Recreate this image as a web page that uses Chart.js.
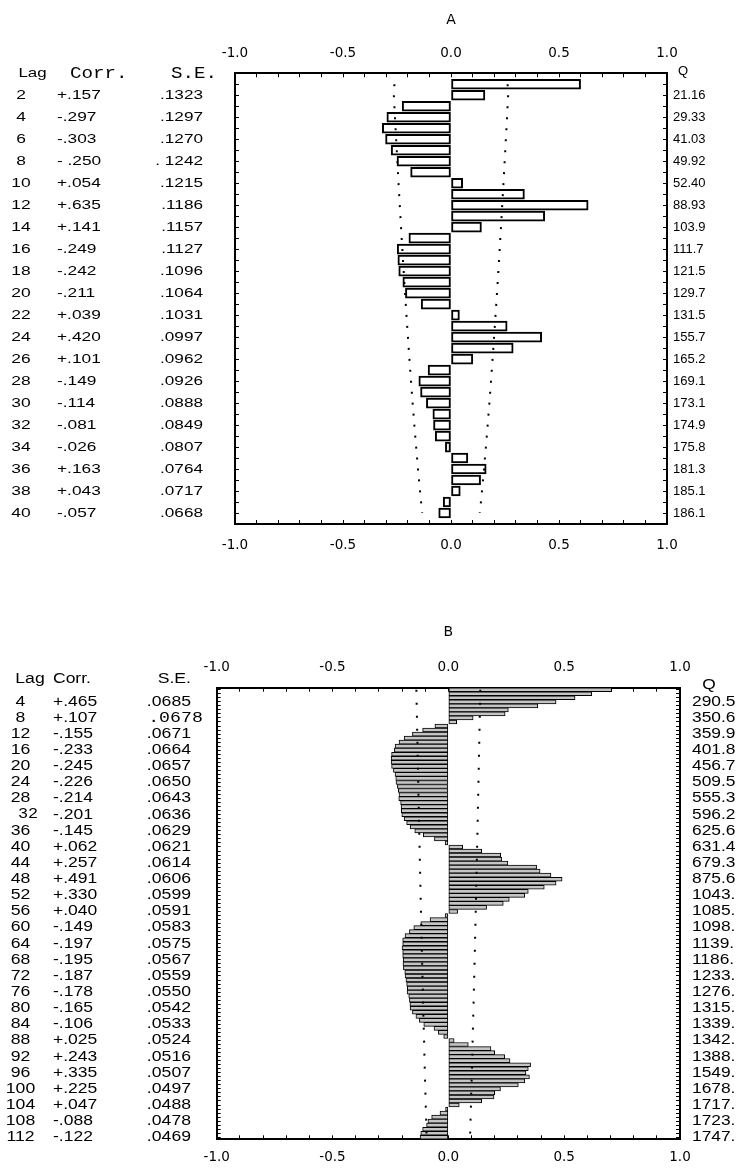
<!DOCTYPE html>
<html><head><meta charset="utf-8">
<script src="https://cdn.jsdelivr.net/npm/chart.js@4.4.1/dist/chart.umd.min.js"></script>
<style>
html,body{margin:0;padding:0;background:#fff;}
#wrapA{position:absolute;left:0;top:0;width:738px;height:584px;}
#wrapB{position:absolute;left:0;top:584px;width:738px;height:584px;}
</style></head><body>
<div id="wrapA"><canvas id="cA"></canvas></div>
<div id="wrapB"><canvas id="cB"></canvas></div>
<script>
// ---------- Panel A data ----------
const lagsA = [1,2,3,4,5,6,7,8,9,10,11,12,13,14,15,16,17,18,19,20,21,22,23,24,25,26,27,28,29,30,31,32,33,34,35,36,37,38,39,40];
const corrA = [0.600,0.157,-0.226,-0.297,-0.318,-0.303,-0.277,-0.250,-0.187,0.054,0.340,0.635,0.434,0.141,-0.195,-0.249,-0.246,-0.242,-0.223,-0.211,-0.138,0.039,0.260,0.420,0.288,0.101,-0.106,-0.149,-0.141,-0.114,-0.084,-0.081,-0.073,-0.026,0.078,0.163,0.137,0.043,-0.036,-0.057];
const tableLagsA = [2,4,6,8,10,12,14,16,18,20,22,24,26,28,30,32,34,36,38,40];
const tableCorrA = ['+.157','-.297','-.303','- .250','+.054','+.635','+.141','-.249','-.242','-.211','+.039','+.420','+.101','-.149','-.114','-.081','-.026','+.163','+.043','-.057'];
const tableSEA = ['.1323','.1297','.1270','. 1242','.1215','.1186','.1157','.1127','.1096','.1064','.1031','.0997','.0962','.0926','.0888','.0849','.0807','.0764','.0717','.0668'];
const tableQA = ['21.16','29.33','41.03','49.92','52.40','88.93','103.9','111.7','121.5','129.7','131.5','155.7','165.2','169.1','173.1','174.9','175.8','181.3','185.1','186.1'];
const bandLagsA = [1,2,4,6,8,10,12,14,16,18,20,22,24,26,28,30,32,34,36,38,40];
const bandA = [0.262,0.2646,0.2594,0.254,0.2484,0.243,0.2372,0.2314,0.2254,0.2192,0.2128,0.2062,0.1994,0.1924,0.1852,0.1776,0.1698,0.1614,0.1528,0.1434,0.1336];

// ---------- Panel B data ----------
const lagsB = [];
for (let k = 1; k <= 112; k++) lagsB.push(k);
const corrB = [
 0.705,0.619,0.547,0.465,0.386,0.259,0.245,0.107,0.036,-0.058,
 -0.111,-0.155,-0.191,-0.213,-0.230,-0.233,-0.245,-0.247,-0.247,-0.245,
 -0.237,-0.230,-0.227,-0.226,-0.220,-0.216,-0.213,-0.214,-0.206,-0.204,
 -0.203,-0.201,-0.191,-0.180,-0.165,-0.145,-0.108,-0.060,-0.014,0.062,
 0.144,0.226,0.230,0.257,0.381,0.396,0.443,0.491,0.465,0.414,
 0.345,0.330,0.263,0.237,0.165,0.040,-0.014,-0.079,-0.119,-0.149,
 -0.168,-0.187,-0.197,-0.197,-0.200,-0.197,-0.197,-0.195,-0.196,-0.194,
 -0.188,-0.187,-0.183,-0.180,-0.177,-0.178,-0.171,-0.168,-0.166,-0.165,
 -0.155,-0.140,-0.125,-0.106,-0.062,-0.043,-0.020,0.025,0.086,0.184,
 0.200,0.243,0.266,0.355,0.345,0.335,0.350,0.330,0.302,0.225,
 0.200,0.197,0.144,0.047,-0.012,-0.036,-0.072,-0.088,-0.094,-0.111,
 -0.119,-0.122];
const tableLagsB = [4,8,12,16,20,24,28,32,36,40,44,48,52,56,60,64,68,72,76,80,84,88,92,96,100,104,108,112];
const tableCorrB = ['+.465','+.107','-.155','-.233','-.245','-.226','-.214','-.201','-.145','+.062','+.257','+.491','+.330','+.040','-.149','-.197','-.195','-.187','-.178','-.165','-.106','+.025','+.243','+.335','+.225','+.047','-.088','-.122'];
const tableSEB = ['.0685','.0678','.0671','.0664','.0657','.0650','.0643','.0636','.0629','.0621','.0614','.0606','.0599','.0591','.0583','.0575','.0567','.0559','.0550','.0542','.0533','.0524','.0516','.0507','.0497','.0488','.0478','.0469'];
const tableQB = ['290.5','350.6','359.9','401.8','456.7','509.5','555.3','596.2','625.6','631.4','679.3','875.6','1043.','1085.','1098.','1139.','1186.','1233.','1276.','1315.','1339.','1342.','1388.','1549.','1678.','1717.','1723.','1747.'];
const bandLagsB = [1,4,8,12,16,20,24,28,32,36,40,44,48,52,56,60,64,68,72,76,80,84,88,92,96,100,104,108,112];
const bandB = [0.138,0.137,0.1356,0.1342,0.1328,0.1314,0.130,0.1286,0.1272,0.1258,0.1242,0.1228,0.1212,0.1198,0.1182,0.1166,0.115,0.1134,0.1118,0.110,0.1084,0.1066,0.1048,0.1032,0.1014,0.0994,0.0976,0.0956,0.0938];

const xTickLabels = ['-1.0','-0.5','0.0','0.5','1.0'];

// ---------- helpers ----------
const SANS = "'Liberation Sans', Arial, sans-serif";
const MONO = "'Liberation Mono', 'Courier New', monospace";
const TICKF = "'DejaVu Sans', 'Liberation Sans', sans-serif";
Chart.defaults.font.family = SANS;
Chart.defaults.color = '#000';

function fmtTick(v) {
  const h = v * 2;
  if (Math.abs(h - Math.round(h)) > 1e-6) return '';
  return xTickLabels[Math.round(h) + 2];
}

function drawText(ctx, t, x, y, font, align, sx) {
  ctx.save();
  ctx.font = font;
  ctx.textAlign = align;
  ctx.textBaseline = 'middle';
  ctx.translate(x, y);
  ctx.scale(sx, 1);
  ctx.fillText(t, 0, 0);
  ctx.restore();
}

const tablePlugin = {
  id: 'tableText',
  afterDraw(chart, args, opts) {
    const {ctx, chartArea} = chart;
    const ys = chart.scales.y;
    ctx.save();
    ctx.fillStyle = '#000';
    for (const col of opts.columns) {
      const base = col.side === 'left' ? chartArea.left : chartArea.right;
      if (col.header) {
        drawText(ctx, col.header, base + col.hx, ys.getPixelForValue(col.headerAt),
          col.headerFont || col.font, col.headerAlign || col.align, col.hsx || col.sx);
      }
      col.labels.forEach((t, i) => {
        const sp = col.special && col.special[i];
        if (sp) {
          drawText(ctx, t, base + sp.x, ys.getPixelForValue(col.lags[i]), sp.font, sp.align, sp.sx);
        } else {
          drawText(ctx, t, base + col.dx, ys.getPixelForValue(col.lags[i]), col.font, col.align, col.sx);
        }
      });
    }
    ctx.restore();
  }
};

function axisX(pos, fontSize, pad, h) {
  return {
    type: 'linear', position: pos, min: -1, max: 1, offset: false,
    ticks: { stepSize: 0.1, callback: fmtTick, autoSkip: false, maxRotation: 0, padding: pad,
      font: { size: fontSize, family: TICKF }, color: '#000' },
    grid: { offset: false, drawOnChartArea: false, drawTicks: true, tickLength: -4, color: '#000', lineWidth: 1 },
    border: { display: true, color: '#000', width: 2 },
    afterFit: s => { s.height = h; }
  };
}
function axisY(pos, lags, min, max) {
  return {
    type: 'linear', position: pos, reverse: true, min: min, max: max, offset: false,
    afterBuildTicks: s => { s.ticks = lags.map(v => ({ value: v })); },
    ticks: { display: false },
    grid: { offset: false, drawOnChartArea: false, drawTicks: true, tickLength: -4, color: '#000', lineWidth: 1 },
    border: { display: true, color: '#000', width: 2 },
    afterFit: s => { s.width = 10; }
  };
}

function build(canvasId, cfg) {
  const barData = cfg.lags.map((k, i) => ({ x: cfg.corr[i], y: k }));
  const up = cfg.bandLags.map((k, i) => ({ x: cfg.band[i], y: k }));
  const lo = cfg.bandLags.map((k, i) => ({ x: -cfg.band[i], y: k }));
  const lineDs = d => ({
    type: 'line', data: d, borderColor: '#000', borderWidth: 2, borderDash: cfg.dash,
    borderCapStyle: 'butt', pointRadius: 0, fill: false, tension: 0, order: 0, xAxisID: 'x', yAxisID: 'y'
  });
  return new Chart(document.getElementById(canvasId), {
    type: 'bar',
    data: {
      datasets: [
        lineDs(up), lineDs(lo),
        { type: 'bar', data: barData, backgroundColor: cfg.fill, borderColor: '#000', borderWidth: cfg.bw,
          borderSkipped: false, barThickness: cfg.thick, order: 1, xAxisID: 'x', yAxisID: 'y' }
      ]
    },
    options: {
      indexAxis: 'y',
      responsive: true, maintainAspectRatio: false, animation: false,
      layout: { padding: cfg.padding },
      plugins: {
        legend: { display: false }, tooltip: { enabled: false },
        title: { display: true, text: cfg.title, font: { size: 14, weight: 'normal', family: TICKF }, color: '#000', padding: cfg.titlePad },
        tableText: { columns: cfg.columns }
      },
      scales: {
        x: axisX('bottom', cfg.tickFont, cfg.bottomPad, cfg.bottomH),
        x2: axisX('top', cfg.tickFont, cfg.topPad, 30),
        y: axisY('left', cfg.lags, cfg.ymin, cfg.ymax),
        y2: axisY('right', cfg.lags, cfg.ymin, cfg.ymax)
      }
    },
    plugins: [tablePlugin]
  });
}

// ---------- Panel A ----------
const fA = '13px ' + SANS;
build('cA', {
  title: 'A', lags: lagsA, corr: corrA, bandLags: bandLagsA, band: bandA,
  dash: [2, 9], fill: '#fff', bw: 2, thick: 10, ymin: 0, ymax: 41,
  padding: { left: 225, right: 61, top: 0, bottom: 30 },
  titlePad: { top: 12, bottom: 14.5 },
  tickFont: 13.5, topPad: 15.5, bottomPad: 17.5, bottomH: 30,
  columns: [
    { side: 'left', dx: -214, align: 'center', font: fA, sx: 1.34, labels: tableLagsA.map(String), lags: tableLagsA,
      header: 'Lag', headerAt: 0.05, hx: -202.5, hsx: 1.3 },
    { side: 'left', dx: -178, align: 'left', font: fA, sx: 1.33, labels: tableCorrA, lags: tableLagsA,
      header: 'Corr.', headerAt: 0.05, hx: -165, headerFont: '16px ' + MONO, hsx: 1.2 },
    { side: 'left', dx: -32, align: 'right', font: fA, sx: 1.32, labels: tableSEA, lags: tableLagsA,
      header: 'S.E.', headerAt: 0.05, hx: -18, headerFont: '16px ' + MONO, hsx: 1.2 },
    { side: 'right', dx: 6, align: 'left', font: fA, sx: 1.0, labels: tableQA, lags: tableLagsA,
      header: 'Q', headerAt: -0.15, hx: 16, headerAlign: 'center', hsx: 1.0 }
  ]
});

// ---------- Panel B ----------
const fB = '14px ' + SANS;
build('cB', {
  title: 'B', lags: lagsB, corr: corrB, bandLags: bandLagsB, band: bandB,
  dash: [2, 11], fill: '#c4c4c4', bw: 1, thick: 4, ymin: 0.5, ymax: 112.5,
  padding: { left: 206.7, right: 48, top: 0, bottom: 0.7 },
  titlePad: { top: 40, bottom: 16.9 },
  tickFont: 13.5, topPad: 16.6, bottomPad: 14.5, bottomH: 28,
  columns: [
    { side: 'left', dx: -196.2, align: 'center', font: fB, sx: 1.26, labels: tableLagsB.map(String), lags: tableLagsB,
      header: 'Lag', headerAt: -1.5, hx: -186.7,
      special: { 7: { x: -188.7, font: '14px ' + MONO, align: 'center', sx: 1.2 } } },
    { side: 'left', dx: -163.7, align: 'left', font: fB, sx: 1.25, labels: tableCorrB, lags: tableLagsB,
      header: 'Corr.', headerAt: -1.5, hx: -163.7 },
    { side: 'left', dx: -25.7, align: 'right', font: fB, sx: 1.26, labels: tableSEB, lags: tableLagsB,
      header: 'S.E.', headerAt: -1.5, hx: -25.7,
      special: { 1: { x: -68.5, font: '14px ' + MONO, align: 'left', sx: 1.3 } } },
    { side: 'right', dx: 12, align: 'left', font: fB, sx: 1.24, labels: tableQB, lags: tableLagsB,
      header: 'Q', headerAt: -0.2, hx: 29, headerAlign: 'center' }
  ]
});
</script>
</body></html>
